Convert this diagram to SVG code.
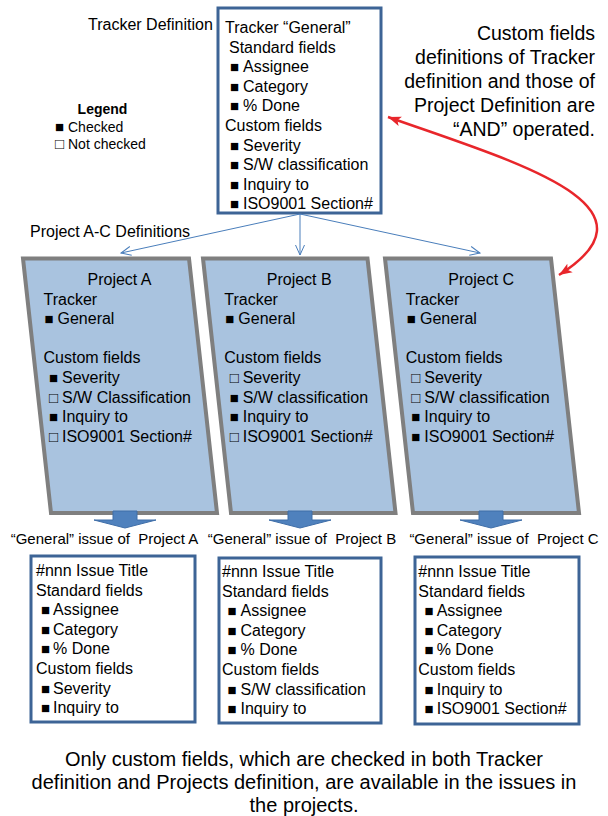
<svg xmlns="http://www.w3.org/2000/svg" width="608" height="816" viewBox="0 0 608 816">
<defs>
<style>
text { font-family: "Liberation Sans", Arial, sans-serif; fill: #000; }
.f16 { font-size: 16px; }
.f15 { font-size: 15px; }
.f14 { font-size: 14px; }
.big { font-size: 19.5px; }
.bot { font-size: 20px; }
.sq { font-size: 15px; }
.box { fill: #fff; stroke: #3d6496; stroke-width: 3; }
.proj { fill: #a9c3df; stroke: #7f7f7f; stroke-width: 4; }
.thin { fill: none; stroke: #4a7ebb; stroke-width: 1; }
.red { fill: none; stroke: #e8262b; stroke-width: 2.5; }
.blk { fill: #4f81bd; stroke: #3f6ea8; stroke-width: 1; }
</style>
<marker id="vhead" markerUnits="userSpaceOnUse" viewBox="0 0 12 12" refX="11" refY="6" markerWidth="12" markerHeight="12" orient="auto">
<path d="M1,1.5 L11,6 L1,10.5" fill="none" stroke="#4a7ebb" stroke-width="1"/>
</marker>
<marker id="rhead" markerUnits="userSpaceOnUse" viewBox="0 0 14 12" refX="13" refY="6" markerWidth="14" markerHeight="12" orient="auto-start-reverse">
<path d="M0,1 L13,6 L0,11 L3,6 Z" fill="#e8262b"/>
</marker>
</defs>

<g id="label-tracker-definition"><text class="f16" x="88" y="30">Tracker Definition</text></g>

<g id="tracker-general">
<rect class="box" x="218" y="8" width="163" height="205"/>
<text class="f16" x="225" y="33">Tracker “General”</text>
<text class="f16" x="229" y="52.6">Standard fields</text>
<text class="f16" y="72.2"><tspan class="sq" x="230">■</tspan><tspan x="243">Assignee</tspan></text>
<text class="f16" y="91.8"><tspan class="sq" x="230">■</tspan><tspan x="243">Category</tspan></text>
<text class="f16" y="111.4"><tspan class="sq" x="230">■</tspan><tspan x="243">% Done</tspan></text>
<text class="f16" x="225" y="131">Custom fields</text>
<text class="f16" y="150.6"><tspan class="sq" x="230">■</tspan><tspan x="243">Severity</tspan></text>
<text class="f16" y="170.2"><tspan class="sq" x="230">■</tspan><tspan x="243">S/W classification</tspan></text>
<text class="f16" y="189.8"><tspan class="sq" x="230">■</tspan><tspan x="243">Inquiry to</tspan></text>
<text class="f16" y="209.4"><tspan class="sq" x="230">■</tspan><tspan x="243">ISO9001 Section#</tspan></text>
</g>

<g id="legend">
<text class="f14" x="102.5" y="114" text-anchor="middle" font-weight="bold">Legend</text>
<text class="f14" y="132"><tspan class="sq" x="55">■</tspan><tspan x="68">Checked</tspan></text>
<text class="f14" y="149"><tspan class="sq" x="55">□</tspan><tspan x="68">Not checked</tspan></text>
</g>

<g id="note-and">
<text class="big" text-anchor="end" x="595" y="40">Custom fields</text>
<text class="big" text-anchor="end" x="595" y="64">definitions of Tracker</text>
<text class="big" text-anchor="end" x="595" y="88">definition and those of</text>
<text class="big" text-anchor="end" x="595" y="112">Project Definition are</text>
<text class="big" text-anchor="end" x="595" y="136">“AND” operated.</text>
</g>

<g id="label-project-definitions"><text class="f16" x="30" y="237">Project A-C Definitions</text></g>

<g id="project-a">
<polygon class="proj" points="23,258.5 189,258.5 217,513 51,513"/>
<text class="f16" x="119.5" y="285" text-anchor="middle">Project A</text>
<text class="f16" x="43.5" y="304.6">Tracker</text>
<text class="f16" y="324.2"><tspan class="sq" x="44.5">■</tspan><tspan x="57.5">General</tspan></text>
<text class="f16" x="43.5" y="363.4">Custom fields</text>
<text class="f16" y="383"><tspan class="sq" x="49">■</tspan><tspan x="62">Severity</tspan></text>
<text class="f16" y="402.6"><tspan class="sq" x="49">□</tspan><tspan x="62">S/W Classification</tspan></text>
<text class="f16" y="422.2"><tspan class="sq" x="49">■</tspan><tspan x="62">Inquiry to</tspan></text>
<text class="f16" y="441.8"><tspan class="sq" x="49">□</tspan><tspan x="62">ISO9001 Section#</tspan></text>
</g>

<g id="project-b">
<polygon class="proj" points="203,258.5 367.5,258.5 395.5,513 231,513"/>
<text class="f16" x="299.2" y="285" text-anchor="middle">Project B</text>
<text class="f16" x="224.3" y="304.6">Tracker</text>
<text class="f16" y="324.2"><tspan class="sq" x="225.3">■</tspan><tspan x="238.3">General</tspan></text>
<text class="f16" x="224.3" y="363.4">Custom fields</text>
<text class="f16" y="383"><tspan class="sq" x="229.7">□</tspan><tspan x="242.7">Severity</tspan></text>
<text class="f16" y="402.6"><tspan class="sq" x="229.7">■</tspan><tspan x="242.7">S/W classification</tspan></text>
<text class="f16" y="422.2"><tspan class="sq" x="229.7">■</tspan><tspan x="242.7">Inquiry to</tspan></text>
<text class="f16" y="441.8"><tspan class="sq" x="229.7">□</tspan><tspan x="242.7">ISO9001 Section#</tspan></text>
</g>

<g id="project-c">
<polygon class="proj" points="385,258.5 551,258.5 579,513 413,513"/>
<text class="f16" x="481.2" y="285" text-anchor="middle">Project C</text>
<text class="f16" x="405.7" y="304.6">Tracker</text>
<text class="f16" y="324.2"><tspan class="sq" x="406.7">■</tspan><tspan x="420">General</tspan></text>
<text class="f16" x="405.7" y="363.4">Custom fields</text>
<text class="f16" y="383"><tspan class="sq" x="411.3">□</tspan><tspan x="424.3">Severity</tspan></text>
<text class="f16" y="402.6"><tspan class="sq" x="411.3">□</tspan><tspan x="424.3">S/W classification</tspan></text>
<text class="f16" y="422.2"><tspan class="sq" x="411.3">■</tspan><tspan x="424.3">Inquiry to</tspan></text>
<text class="f16" y="441.8"><tspan class="sq" x="411.3">■</tspan><tspan x="424.3">ISO9001 Section#</tspan></text>
</g>

<g id="connectors">
<line class="thin" x1="300" y1="214" x2="121" y2="253" marker-end="url(#vhead)"/>
<line class="thin" x1="300" y1="214" x2="300" y2="255" marker-end="url(#vhead)"/>
<line class="thin" x1="300" y1="214" x2="480" y2="253" marker-end="url(#vhead)"/>
<path class="red" d="M388,117 C515,162 670,205 559,275" marker-start="url(#rhead)" marker-end="url(#rhead)"/>
<path class="blk" d="M113,511 H137 V520 H156 L125,528 L94,520 H113 Z"/>
<path class="blk" d="M288,511 H312 V520 H331 L300,528 L269,520 H288 Z"/>
<path class="blk" d="M479,511 H503 V520 H522 L491,528 L460,520 H479 Z"/>
</g>

<g id="label-issues">
<text class="f15" x="104.5" y="544" text-anchor="middle" xml:space="preserve">“General” issue of  Project A</text>
<text class="f15" x="302" y="544" text-anchor="middle" xml:space="preserve">“General” issue of  Project B</text>
<text class="f15" x="504" y="544" text-anchor="middle" xml:space="preserve">“General” issue of  Project C</text>
</g>

<g id="issue-a">
<rect class="box" x="31" y="556" width="164" height="166"/>
<text class="f16" x="36" y="576">#nnn Issue Title</text>
<text class="f16" x="36" y="595.6">Standard fields</text>
<text class="f16" y="615.2"><tspan class="sq" x="41">■</tspan><tspan x="53">Assignee</tspan></text>
<text class="f16" y="634.8"><tspan class="sq" x="41">■</tspan><tspan x="53">Category</tspan></text>
<text class="f16" y="654.4"><tspan class="sq" x="41">■</tspan><tspan x="53">% Done</tspan></text>
<text class="f16" x="36" y="674">Custom fields</text>
<text class="f16" y="693.6"><tspan class="sq" x="41">■</tspan><tspan x="53">Severity</tspan></text>
<text class="f16" y="713.2"><tspan class="sq" x="41">■</tspan><tspan x="53">Inquiry to</tspan></text>
</g>

<g id="issue-b">
<rect class="box" x="219" y="558" width="162" height="165"/>
<text class="f16" x="222" y="577">#nnn Issue Title</text>
<text class="f16" x="222" y="596.6">Standard fields</text>
<text class="f16" y="616.2"><tspan class="sq" x="227.5">■</tspan><tspan x="240.5">Assignee</tspan></text>
<text class="f16" y="635.8"><tspan class="sq" x="227.5">■</tspan><tspan x="240.5">Category</tspan></text>
<text class="f16" y="655.4"><tspan class="sq" x="227.5">■</tspan><tspan x="240.5">% Done</tspan></text>
<text class="f16" x="222" y="675">Custom fields</text>
<text class="f16" y="694.6"><tspan class="sq" x="227.5">■</tspan><tspan x="240.5">S/W classification</tspan></text>
<text class="f16" y="714.2"><tspan class="sq" x="227.5">■</tspan><tspan x="240.5">Inquiry to</tspan></text>
</g>

<g id="issue-c">
<rect class="box" x="415" y="557" width="164" height="167"/>
<text class="f16" x="418.3" y="577">#nnn Issue Title</text>
<text class="f16" x="418.3" y="596.6">Standard fields</text>
<text class="f16" y="616.2"><tspan class="sq" x="424.5">■</tspan><tspan x="436.7">Assignee</tspan></text>
<text class="f16" y="635.8"><tspan class="sq" x="424.5">■</tspan><tspan x="436.7">Category</tspan></text>
<text class="f16" y="655.4"><tspan class="sq" x="424.5">■</tspan><tspan x="436.7">% Done</tspan></text>
<text class="f16" x="418.3" y="675">Custom fields</text>
<text class="f16" y="694.6"><tspan class="sq" x="424.5">■</tspan><tspan x="436.7">Inquiry to</tspan></text>
<text class="f16" y="714.2"><tspan class="sq" x="424.5">■</tspan><tspan x="436.7">ISO9001 Section#</tspan></text>
</g>

<g id="note-bottom">
<text class="bot" x="304" y="766" text-anchor="middle">Only custom fields, which are checked in both Tracker</text>
<text class="bot" x="304" y="789" text-anchor="middle">definition and Projects definition, are available in the issues in</text>
<text class="bot" x="304" y="812" text-anchor="middle">the projects.</text>
</g>
</svg>
